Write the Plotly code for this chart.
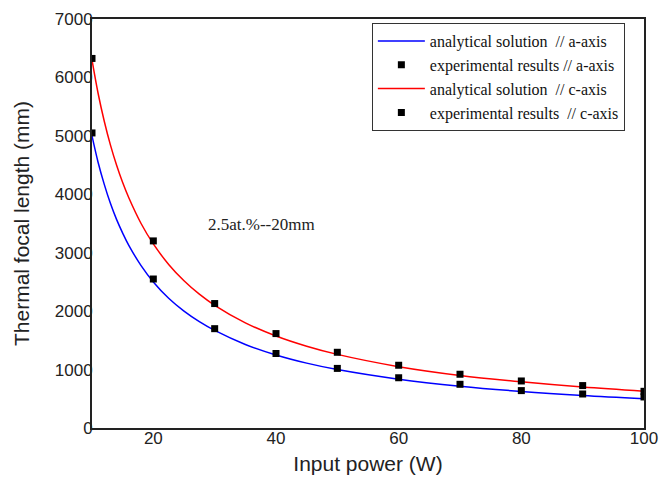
import plotly.graph_objects as go

# Analytical curves
power_curve = [10, 11, 12, 13, 14, 15, 16, 18, 20, 22.5, 25, 27.5, 30, 35, 40, 45, 50, 60, 70, 80, 90, 100]
analytic_a = [5000, 4545, 4170, 3845, 3570, 3335, 3125, 2780, 2500, 2220, 2000, 1820, 1670, 1430, 1250, 1110, 1000, 835, 715, 625, 555, 500]
analytic_c = [6300, 5725, 5250, 4845, 4500, 4200, 3940, 3500, 3150, 2800, 2520, 2290, 2100, 1800, 1575, 1400, 1260, 1050, 900, 790, 700, 630]

# Experimental results
power_exp = [10, 20, 30, 40, 50, 60, 70, 80, 90, 100]
exp_a = [5050, 2550, 1700, 1275, 1020, 860, 748, 640, 582, 531]
exp_c = [6325, 3202, 2130, 1616, 1296, 1074, 920, 805, 726, 628]

x_ticks = [20, 40, 60, 80, 100]
y_ticks = [0, 1000, 2000, 3000, 4000, 5000, 6000, 7000]

fig = go.Figure()
fig.add_trace(go.Scatter(x=power_curve, y=analytic_a, mode="lines",
                         line=dict(color="#0000ff", width=1.5, shape="spline"),
                         name="analytical solution  // a-axis"))
fig.add_trace(go.Scatter(x=power_exp, y=exp_a, mode="markers",
                         marker=dict(symbol="square", size=7, color="black"),
                         name="experimental results // a-axis"))
fig.add_trace(go.Scatter(x=power_curve, y=analytic_c, mode="lines",
                         line=dict(color="#ff0000", width=1.5, shape="spline"),
                         name="analytical solution  // c-axis"))
fig.add_trace(go.Scatter(x=power_exp, y=exp_c, mode="markers",
                         marker=dict(symbol="square", size=7, color="black"),
                         name="experimental results  // c-axis"))

fig.add_annotation(x=28.6, y=3490, xref="x", yref="y", text="2.5at.%--20mm",
                   showarrow=False, xanchor="left", yanchor="middle",
                   font=dict(family="Liberation Serif", size=17, color="#222"))

axis_common = dict(showline=True, linecolor="#222", linewidth=2, mirror=True,
                   showgrid=False, zeroline=False, ticks="",
                   ticklabelstandoff=-6,
                   tickfont=dict(family="Liberation Sans", size=17, color="#222"))

fig.update_xaxes(range=[10, 100], tickvals=x_ticks,
                 title=dict(text="Input power (W)", standoff=9,
                            font=dict(family="Liberation Sans", size=21, color="#222")),
                 **axis_common)
fig.update_yaxes(range=[0, 7000], tickvals=y_ticks,
                 title=dict(text="Thermal focal length (mm)", standoff=19,
                            font=dict(family="Liberation Sans", size=21, color="#222")),
                 **axis_common)

fig.update_layout(
    width=659, height=477,
    margin=dict(l=92, r=15, t=19, b=49, autoexpand=False),
    paper_bgcolor="white", plot_bgcolor="white",
    legend=dict(x=0.507, y=0.99, xanchor="left", yanchor="top",
                bgcolor="white", bordercolor="#333", borderwidth=1,
                itemwidth=47,
                font=dict(family="Liberation Serif", size=16, color="#111"),
                tracegroupgap=0),
    showlegend=True,
)

fig.write_html("out.html", config={"displayModeBar": False},
               post_script="document.body.style.margin='0';document.body.style.padding='0';")
